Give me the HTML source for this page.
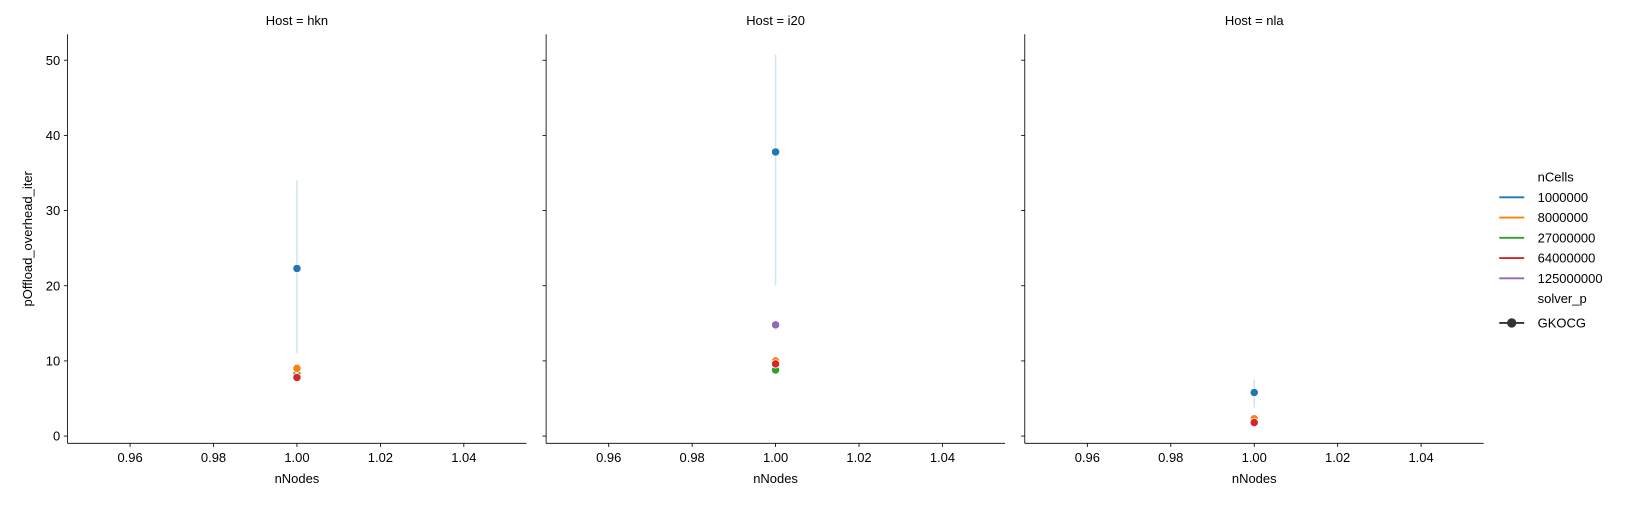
<!DOCTYPE html>
<html><head><meta charset="utf-8"><style>
body{margin:0;background:#fff;font-family:"Liberation Sans","DejaVu Sans",sans-serif;}
svg text{font-family:"Liberation Sans","DejaVu Sans",sans-serif;font-size:12.5px;fill:#000;}
</style></head><body>
<svg id="chart" width="1628" height="500" viewBox="0 0 1568 481.57"></svg>
<script>
const hosts = ["hkn","i20","nla"];
const categories = ["1000000","8000000","27000000","64000000","125000000"];
const colors = ["#1f77b4","#ff7f0e","#2ca02c","#d62728","#9467bd"];
const xValue = 1.0;
const meanHkn = [22.3, 9.0, 8.3, 7.8, null];
const lowHkn = [11, 8.5, 8.0, 7.5, null];
const highHkn = [34, 9.5, 8.6, 8.1, null];
const meanI20 = [37.8, 10.0, 8.8, 9.6, 14.8];
const lowI20 = [20, 9.6, 8.6, 9.3, 14.0];
const highI20 = [50.8, 10.5, 9.0, 9.9, 15.5];
const meanNla = [5.8, 2.3, 2.0, 1.8, null];
const lowNla = [3.8, 2.1, 1.9, 1.7, null];
const highNla = [7.5, 2.5, 2.1, 1.9, null];
const yTicks = [0,10,20,30,40,50];
const xTicks = [0.96,0.98,1.00,1.02,1.04];
const means=[meanHkn,meanI20,meanNla], lows=[lowHkn,lowI20,lowNla], highs=[highHkn,highI20,highNla];

const NS="http://www.w3.org/2000/svg";
const svgEl=document.getElementById('chart');
function mk(tag,attrs,parent,txt){const e=document.createElementNS(NS,tag);for(const k in attrs)e.setAttribute(k,attrs[k]);if(txt!=null)e.textContent=txt;(parent||svgEl).appendChild(e);return e;}
const panelLeft=[65,526,987], pw=442, plotTop=33, plotBottom=427;
const xMin=0.945, xMax=1.055;
const yScale=v=>420-v*7.24;
const xScale=(i,v)=>panelLeft[i]+(v-xMin)/(xMax-xMin)*pw;

hosts.forEach((h,i)=>{
  const g=mk('g',{});
  
  
  const L=panelLeft[i];
  const yax=mk('line',{x1:L,x2:L,y1:plotTop,y2:plotBottom,stroke:'#000','stroke-width':0.8},g);
  
  
  const xax=mk('line',{x1:L,x2:L+pw,y1:plotBottom,y2:plotBottom,stroke:'#000','stroke-width':0.8},g);
  
  
  yTicks.forEach(t=>{
    const y=yScale(t);
    mk('line',{x1:L-3.5,x2:L,y1:y,y2:y,stroke:'#000','stroke-width':0.8},g);
    if(i===0){const tx=mk('text',{x:L-7,y:y+4.5,'text-anchor':'end'},g,String(t));
      
      }
  });
  xTicks.forEach(t=>{
    const x=xScale(i,t);
    mk('line',{x1:x,x2:x,y1:plotBottom,y2:plotBottom+3.5,stroke:'#000','stroke-width':0.8},g);
    const tx=mk('text',{x:x,y:plotBottom+18,'text-anchor':'middle'},g,t.toFixed(2));
    
    
  });
  const xt=mk('text',{x:L+pw/2,y:465,'text-anchor':'middle'},g,'nNodes');
  
  
  const tt=mk('text',{x:L+pw/2,y:24,'text-anchor':'middle'},g,'Host = '+h);
  
  
  const x=xScale(i,xValue);
  categories.forEach((c,k)=>{
    if(means[i][k]==null)return;
    const eb=mk('line',{x1:x,x2:x,y1:yScale(lows[i][k]),y2:yScale(highs[i][k]),stroke:colors[k],'stroke-width':1.5,'stroke-opacity':0.2},g);
    
    
  });
  [2,1,4,3,0].forEach(k=>{
    if(means[i][k]==null)return;
    const p=mk('circle',{cx:x,cy:yScale(means[i][k]),r:4,fill:colors[k],stroke:'#fff','stroke-width':0.8},g);
    
    
  });
});
const yl=mk('text',{x:31,y:230,'text-anchor':'middle',transform:'rotate(-90 31 230)'},svgEl,'pOffload_overhead_iter');



const lg=mk('g',{});


mk('text',{x:1481,y:175},lg,'nCells');
categories.forEach((c,k)=>{
  const y=190+k*19.5;
  const ln=mk('line',{x1:1444,x2:1468,y1:y,y2:y,stroke:colors[k],'stroke-width':1.8},lg);
  
  
  mk('text',{x:1481,y:y+4.5},lg,c);
});
mk('text',{x:1481,y:292},lg,'solver_p');
mk('line',{x1:1444,x2:1468,y1:311,y2:311,stroke:'#333','stroke-width':1.8},lg);
mk('circle',{cx:1456,cy:311,r:4.5,fill:'#333'},lg);
mk('text',{x:1481,y:315.5},lg,'GKOCG');
</script>
</body></html>
